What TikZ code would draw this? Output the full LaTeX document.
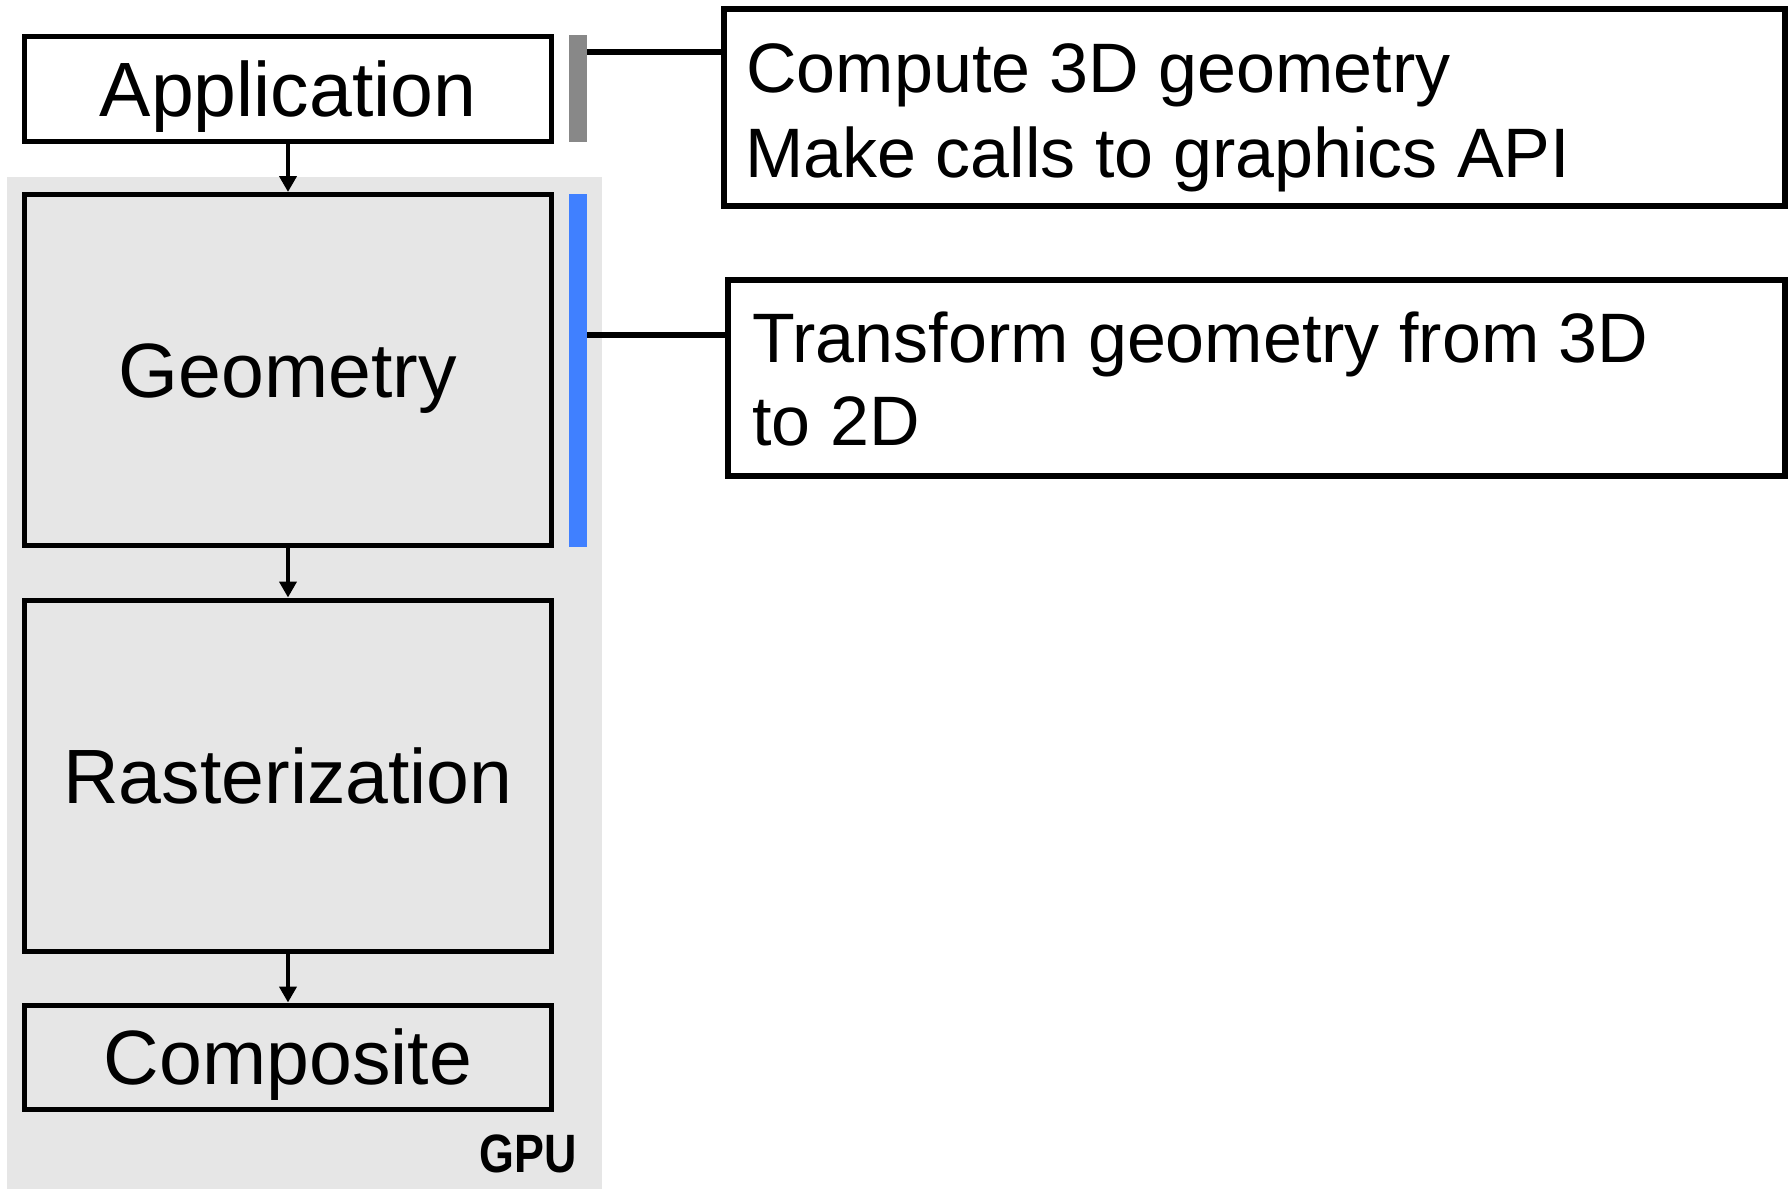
\documentclass[tikz,border=0pt]{standalone}
\usepackage{fontspec}
\setmainfont{Liberation Sans}
\usetikzlibrary{arrows.meta}

\definecolor{panelgray}{RGB}{230,230,230}
\definecolor{bargray}{RGB}{136,136,136}
\definecolor{barblue}{RGB}{64,128,255}

\tikzset{
  stagebox/.style={draw=black, line width=2.5pt, minimum width=263.5pt,
    inner sep=0pt, text height=27.6pt, text depth=0pt,
    font=\fontsize{38.5}{46}\selectfont},
  notebox/.style={draw=black, line width=3pt, fill=white, inner sep=0pt},
  notetext/.style={anchor=base west, inner sep=0pt,
    font=\fontsize{35}{42}\selectfont},
  sidebar/.style={inner sep=0pt, minimum width=9pt, draw=none},
  flow/.style={line width=2.2pt, -{Triangle[width=8.5pt,length=8pt]}},
  link/.style={line width=3pt},
}

\begin{document}
\begin{tikzpicture}[x=0.5pt, y=-0.5pt]
  \useasboundingbox (0,0) rectangle (1792,1189);
  \fill[white] (0,0) rectangle (1792,1189);

  % GPU panel
  \fill[panelgray] (7,177) rectangle (602,1189);
  \node[anchor=base east, inner sep=0pt, font=\fontsize{27}{32}\selectfont\bfseries]
    (gpu) at (577,1172) {\scalebox{0.83}[1]{GPU}};

  % pipeline stages
  \node[stagebox, fill=white, minimum height=52.5pt] (app) at (288,89) {Application};
  \node[stagebox, fill=panelgray, minimum height=175.5pt] (geo) at (288,370) {Geometry};
  \node[stagebox, fill=panelgray, minimum height=175.5pt] (ras) at (288,775.5) {Rasterization};
  \node[stagebox, fill=panelgray, minimum height=52pt] (comp) at (288,1057) {Composite};

  \draw[flow] (app.south) -- (geo.north);
  \draw[flow] (geo.south) -- (ras.north);
  \draw[flow] (ras.south) -- (comp.north);

  % stage markers
  \node[sidebar, fill=bargray, minimum height=53.5pt] (appbar) at (578,88.5) {};
  \node[sidebar, fill=barblue, minimum height=176.5pt] (geobar) at (578,370.5) {};

  % description boxes
  \node[notebox, minimum width=530.5pt, minimum height=98.5pt] (cpu) at (1254.5,107.5) {};
  \node[notetext] (cpu1) at (746,92) {Compute 3D geometry};
  \node[notetext] (cpu2) at (745,177) {Make calls to graphics API};

  \node[notebox, minimum width=528.5pt, minimum height=98pt] (xf) at (1256.5,378) {};
  \node[notetext] (xf1) at (752,362) {Transform geometry from 3D};
  \node[notetext] (xf2) at (752,445) {to 2D};

  % leaders from markers to descriptions
  \draw[link] (appbar.east |- 0,52) -- (cpu.west |- 0,52);
  \draw[link] (geobar.east |- 0,335) -- (xf.west |- 0,335);
\end{tikzpicture}
\end{document}
